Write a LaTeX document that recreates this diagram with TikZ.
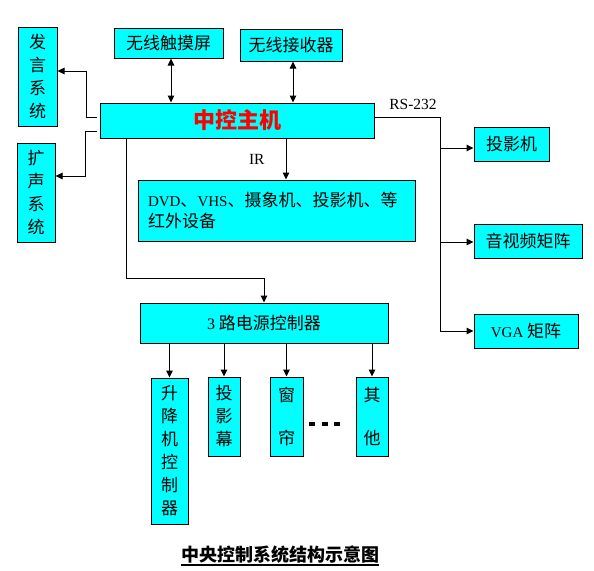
\documentclass[tikz,border=0pt]{standalone}
\usepackage{fontspec}
\setmainfont{Noto Sans CJK SC}
\newfontfamily\lat{Liberation Serif}
\usetikzlibrary{arrows.meta,positioning}

\definecolor{cyanbloc}{RGB}{0,255,255}

\tikzset{
  bloc/.style={draw=black, line width=1pt, fill=cyanbloc, inner sep=0pt,
    align=center, font=\fontsize{17}{23}\selectfont},
  fleche/.style={-{Triangle[length=7pt,width=6.5pt]}, line width=1pt},
  bidir/.style={{Triangle[length=7pt,width=6.5pt]}-{Triangle[length=7pt,width=6.5pt]}, line width=1pt},
  latin/.style={font=\lat\fontsize{15.5}{16}\selectfont, inner sep=1pt}
}

\begin{document}
\begin{tikzpicture}[x=1pt,y=-1pt]
    \useasboundingbox (0,0) rectangle (594,570);

    % Blocs du haut
    \node[bloc, minimum width=109pt, minimum height=30pt] (ecran) at (168.5,43) {无线触摸屏};
    \node[bloc, minimum width=102pt, minimum height=32pt] (recep) at (291,45) {无线接收器};
    \node[bloc, minimum width=274pt, minimum height=35pt, text=red,
          font=\fontsize{22}{22}\bfseries\selectfont] (hote) at (237,120.5) {中控主机};

    % Systemes audio (a gauche)
    \node[bloc, minimum width=39pt, minimum height=99pt] (fayan) at (37.5,76.5) {发\\言\\系\\统};
    \node[bloc, minimum width=38pt, minimum height=99pt] (kuosheng) at (36,192.5) {扩\\声\\系\\统};

    % Equipements infrarouges
    \node[bloc, text width=257pt, inner xsep=10pt, minimum height=61pt, align=left,
          font=\fontsize{17}{21}\selectfont] (infra) at (276.5,210.5)
      {{\lat\fontsize{15}{21}\selectfont DVD}、{\lat\fontsize{15}{21}\selectfont VHS}、摄象机、投影机、等\\红外设备};

    % Equipements RS-232 (a droite)
    \node[bloc, minimum width=75pt, minimum height=34pt] (projo) at (511.5,144) {投影机};
    \node[bloc, minimum width=108pt, minimum height=34pt] (matrice) at (528,241) {音视频矩阵};
    \node[bloc, minimum width=104pt, minimum height=34pt] (vga) at (526,331)
      {{\lat\fontsize{15}{21}\selectfont VGA} 矩阵};

    % Controleur d'alimentation et sorties
    \node[bloc, minimum width=248pt, minimum height=40pt] (alim) at (264,323)
      {{\lat\fontsize{16}{21}\selectfont 3} 路电源控制器};
    \node[bloc, minimum width=37pt, minimum height=146pt] (lift) at (169.5,451) {升\\降\\机\\控\\制\\器};
    \node[bloc, minimum width=32pt, minimum height=79pt] (ecranp) at (224,416.5) {投\\影\\幕};
    \node[bloc, minimum width=33pt, minimum height=79pt] (rideau) at (286.5,416.5) {窗\\[20pt]帘};
    \node[bloc, minimum width=32pt, minimum height=79pt] (autre) at (372,416.5) {其\\[20pt]他};

    % Points de suspension
    \foreach \x in {309,322,334}{
      \fill (\x,422) rectangle ++(6,4);
    }

    % ---- Liaisons ----

    % Liaisons sans fil
    \draw[bidir] ([xshift=2.5pt]ecran.south) -- ([xshift=2.5pt]ecran.south |- hote.north);
    \draw[bidir] ([xshift=2pt]recep.south) -- ([xshift=2pt]recep.south |- hote.north);

    % Vers les systemes audio
    \draw[fleche, shorten <=3pt] ([yshift=3.5pt]hote.west) -- ++(-13,0) |- ([yshift=5.5pt]fayan.east);
    \draw[fleche, shorten <=3pt] ([yshift=-10.5pt]hote.west) -- ++(-14,0) |- ([yshift=16.5pt]kuosheng.east);

    % IR
    \draw[fleche] ([xshift=49pt]hote.south) -- ([xshift=49pt]hote.south |- infra.north)
      node[midway, left=20pt, latin] (ir) {IR};

    % Bus RS-232
    \coordinate (bus) at ([xshift=-33pt]vga.west);
    \draw[fleche] ([yshift=3.5pt]hote.east) -| (bus) -- (vga.west);
    \foreach \cible/\dy in {projo/-4, matrice/-1}{
      \coordinate (entree) at ([yshift=\dy pt]\cible.west);
      \draw[fleche] (bus |- entree) -- (entree);
    }
    \node[latin] (rs) at (413,104) {RS-232};

    % Alimentation
    \draw[fleche] ([xshift=-111pt]hote.south) |- ([yshift=24pt]alim.north) -- (alim.north);
    \foreach \b in {lift,ecranp,rideau,autre}{
      \draw[fleche] (\b.north |- alim.south) -- (\b.north);
    }

    % Titre
    \node[anchor=base, inner sep=0pt, font=\fontsize{18}{18}\bfseries\selectfont] (titre) at (280,561)
      {中央控制系统结构示意图};
    \draw[line width=1.8pt] ([yshift=-4pt]titre.base west) -- ([yshift=-4pt]titre.base east);

\end{tikzpicture}
\end{document}
